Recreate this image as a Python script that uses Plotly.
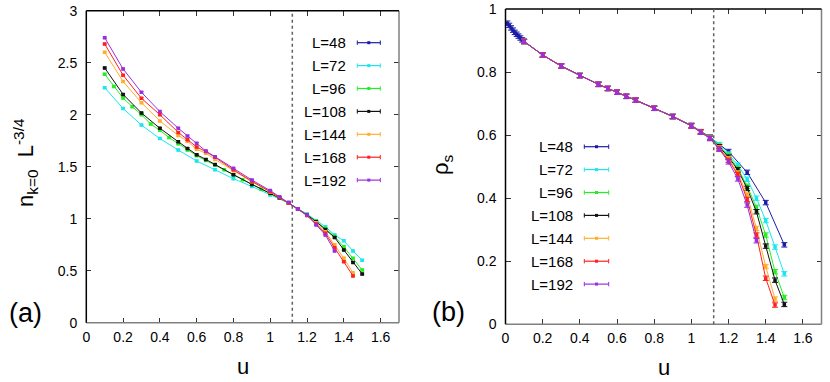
import plotly.graph_objects as go

# ---- data ----
sizes = ["L=48", "L=72", "L=96", "L=108", "L=144", "L=168", "L=192"]
colors = ["#1c1ca8", "#19e6f0", "#22ee22", "#111111", "#ffae2a", "#ff2020", "#9a2ee0"]

# panel (a): n_{k=0} L^{-3/4}
a_u_72 = [0.1, 0.2, 0.3, 0.4, 0.5, 0.6, 0.7, 0.8, 0.9, 1.0, 1.1, 1.2, 1.25, 1.3, 1.35, 1.4, 1.45, 1.5]
a_n_72 = [2.26, 2.06, 1.90, 1.77, 1.66, 1.555, 1.47, 1.385, 1.31, 1.228, 1.15, 1.045, 0.98, 0.923, 0.843, 0.788, 0.69, 0.60]
a_u_96 = [0.1, 0.15, 0.2, 0.25, 0.3, 0.35, 0.4, 0.45, 0.5, 0.55, 0.6, 0.65, 0.7, 0.75, 0.8,
          0.85, 0.9, 0.95, 1.0, 1.05, 1.1, 1.15, 1.2, 1.25, 1.3, 1.35, 1.4, 1.45, 1.5]
a_n_96 = [2.39, 2.27, 2.16, 2.077, 2.0, 1.91, 1.85, 1.78, 1.72, 1.66, 1.606, 1.56, 1.515, 1.47, 1.42,
          1.375, 1.33, 1.285, 1.24, 1.2, 1.15, 1.095, 1.04, 0.975, 0.905, 0.83, 0.73, 0.62, 0.506]
a_u_108 = [0.1, 0.2, 0.3, 0.4, 0.5, 0.55, 0.6, 0.65, 0.7, 0.8, 0.9, 1.0, 1.05, 1.1, 1.15, 1.2, 1.25, 1.3, 1.35, 1.4, 1.45, 1.5]
a_n_108 = [2.45, 2.195, 2.016, 1.87, 1.74, 1.676, 1.615, 1.57, 1.52, 1.423, 1.33, 1.244, 1.2, 1.15, 1.095,
           1.035, 0.971, 0.897, 0.82, 0.70, 0.58, 0.468]
a_u_144 = [0.1, 0.2, 0.3, 0.4, 0.5, 0.55, 0.6, 0.65, 0.7, 0.8, 0.9, 1.0, 1.05, 1.1, 1.15, 1.2, 1.25, 1.3, 1.35, 1.4, 1.45]
a_n_144 = [2.6, 2.32, 2.115, 1.94, 1.80, 1.745, 1.667, 1.63, 1.57, 1.46, 1.355, 1.255, 1.205, 1.15, 1.093,
           1.03, 0.96, 0.875, 0.75, 0.62, 0.48]
a_u_168 = a_u_144
a_n_168 = [2.68, 2.38, 2.157, 2.0, 1.83, 1.76, 1.69, 1.645, 1.59, 1.47, 1.36, 1.26, 1.207, 1.15, 1.092,
           1.03, 0.95, 0.86, 0.72, 0.587, 0.45]
a_u_192 = [0.1, 0.2, 0.3, 0.4, 0.5, 0.55, 0.6, 0.65, 0.7, 0.8, 0.9, 1.0, 1.05, 1.1, 1.15, 1.2, 1.25, 1.3, 1.35]
a_n_192 = [2.74, 2.44, 2.215, 2.03, 1.87, 1.795, 1.725, 1.65, 1.596, 1.484, 1.372, 1.27, 1.21, 1.157, 1.093,
           1.035, 0.94, 0.843, 0.69]

# panel (b): rho_s
b_u_48 = [0.01, 0.02, 0.03, 0.04, 0.05, 0.06, 0.07, 0.08, 0.09, 0.1, 0.2, 0.3, 0.4, 0.5, 0.6, 0.7, 0.8,
          0.9, 1.0, 1.1, 1.2, 1.3, 1.4, 1.5]
b_r_48 = [0.955, 0.948, 0.94, 0.933, 0.926, 0.92, 0.914, 0.908, 0.902, 0.897, 0.854, 0.819, 0.789, 0.761,
          0.736, 0.711, 0.685, 0.659, 0.631, 0.594, 0.548, 0.482, 0.386, 0.252]
b_u = [0.1, 0.2, 0.3, 0.4, 0.5, 0.55, 0.6, 0.65, 0.7, 0.8, 0.9, 1.0, 1.05, 1.1, 1.15, 1.2, 1.25, 1.3, 1.35, 1.4, 1.45, 1.5]
b_r_72 = [0.897, 0.854, 0.819, 0.789, 0.761, 0.748, 0.736, 0.723, 0.711, 0.685, 0.659, 0.630, 0.611, 0.593,
          0.570, 0.54, 0.505, 0.46, 0.40, 0.329, 0.245, 0.16]
b_r_96 = [0.897, 0.854, 0.819, 0.789, 0.761, 0.748, 0.736, 0.723, 0.711, 0.685, 0.659, 0.630, 0.611, 0.592,
          0.565, 0.535, 0.495, 0.438, 0.371, 0.283, 0.167, 0.085]
b_r_108 = [0.897, 0.854, 0.819, 0.789, 0.761, 0.748, 0.736, 0.723, 0.711, 0.685, 0.659, 0.630, 0.611, 0.592,
           0.563, 0.53, 0.49, 0.431, 0.357, 0.248, 0.14, 0.063]
b_r_144 = [0.897, 0.854, 0.819, 0.789, 0.761, 0.748, 0.736, 0.723, 0.711, 0.685, 0.659, 0.630, 0.610, 0.591,
           0.56, 0.525, 0.48, 0.41, 0.304, 0.183, 0.08]
b_r_168 = [0.897, 0.854, 0.819, 0.789, 0.761, 0.748, 0.736, 0.723, 0.711, 0.685, 0.659, 0.629, 0.610, 0.590,
           0.558, 0.52, 0.475, 0.396, 0.283, 0.146, 0.061]
b_r_192 = [0.897, 0.854, 0.819, 0.789, 0.761, 0.748, 0.736, 0.723, 0.711, 0.685, 0.659, 0.629, 0.609, 0.589,
           0.555, 0.515, 0.461, 0.378, 0.265]

u_c = 1.12

panel_a = [([], []), (a_u_72, a_n_72), (a_u_96, a_n_96), (a_u_108, a_n_108),
           (a_u_144, a_n_144), (a_u_168, a_n_168), (a_u_192, a_n_192)]
panel_b = [(b_u_48, b_r_48), (b_u, b_r_72), (b_u, b_r_96), (b_u, b_r_108),
           (b_u[:21], b_r_144), (b_u[:21], b_r_168), (b_u[:19], b_r_192)]

FONT = "Liberation Sans, Arial, sans-serif"
W, H = 830, 382

fig = go.Figure()

for (xs, ys), c in zip(panel_a, colors):
    fig.add_trace(go.Scatter(
        x=xs, y=ys, mode="lines+markers", xaxis="x", yaxis="y",
        line=dict(color=c, width=1), marker=dict(color=c, size=3.5, symbol="square"),
        error_y=dict(type="constant", value=0.008, color=c, thickness=1, width=2),
        showlegend=False, hoverinfo="skip"))

for (xs, ys), c in zip(panel_b, colors):
    fig.add_trace(go.Scatter(
        x=xs, y=ys, mode="lines+markers", xaxis="x2", yaxis="y2",
        line=dict(color=c, width=1), marker=dict(color=c, size=3.5, symbol="square"),
        error_y=dict(type="constant", value=0.007, color=c, thickness=1, width=3),
        showlegend=False, hoverinfo="skip"))

axis_common = dict(
    ticks="inside", ticklen=5, tickcolor="#333333", mirror="ticks",
    showline=False, showgrid=False, zeroline=False, automargin=False,
    tickfont=dict(family=FONT, size=14, color="black"),
)

fig.update_layout(
    width=W, height=H,
    margin=dict(l=0, r=0, t=0, b=0),
    paper_bgcolor="white", plot_bgcolor="white",
    xaxis=dict(domain=[86.3 / W, 399 / W], range=[0, 1.7], dtick=0.2, tick0=0,
               anchor="y", ticklabelstandoff=4, **axis_common),
    yaxis=dict(domain=[(H - 322.7) / H, (H - 10.7) / H], range=[0, 3], dtick=0.5,
               anchor="x", ticklabelstandoff=8, **axis_common),
    xaxis2=dict(domain=[505.5 / W, 821.5 / W], range=[0, 1.7], dtick=0.2, tick0=0,
                anchor="y2", ticklabelstandoff=4, **axis_common),
    yaxis2=dict(domain=[(H - 324.3) / H, (H - 9) / H], range=[0, 1], dtick=0.2,
                anchor="x2", ticklabelstandoff=8, **axis_common),
)

# frame: left/top black, bottom/right grey
shapes = []
for xr, yr in [("x", "y"), ("x2", "y2")]:
    xd, yd = xr + " domain", yr + " domain"
    shapes += [
        dict(type="line", xref=xd, yref=yd, x0=0, x1=1, y0=0, y1=0, line=dict(color="#808080", width=1.5)),
        dict(type="line", xref=xd, yref=yd, x0=1, x1=1, y0=0, y1=1, line=dict(color="#808080", width=1.5)),
        dict(type="line", xref=xd, yref=yd, x0=0, x1=0, y0=0, y1=1, line=dict(color="black", width=1.5)),
        dict(type="line", xref=xd, yref=yd, x0=0, x1=1, y0=1, y1=1, line=dict(color="black", width=1.5)),
        dict(type="line", xref=xr, yref=yd, x0=u_c, x1=u_c, y0=0, y1=1,
             line=dict(color="#606060", width=1.5, dash="3px,3px")),
    ]

# gnuplot-style keys: label on the left, error-bar sample on the right
annotations = []
keys = [(347.7, 42.7, 357.3, 380.3), (575.0, 146.7, 584.3, 608.7)]
row_step = 22.9
for tx, ty, sx0, sx1 in keys:
    for i, (lab, c) in enumerate(zip(sizes, colors)):
        yy = (H - (ty + i * row_step)) / H
        annotations.append(dict(text=lab, x=tx / W, y=yy, xref="paper", yref="paper",
                                xanchor="right", yanchor="middle", showarrow=False,
                                font=dict(family=FONT, size=15, color="black")))
        cap = 2.2 / H
        shapes += [
            dict(type="line", xref="paper", yref="paper", x0=sx0 / W, x1=sx1 / W, y0=yy, y1=yy,
                 line=dict(color=c, width=1.2)),
            dict(type="line", xref="paper", yref="paper", x0=sx0 / W, x1=sx0 / W, y0=yy - cap, y1=yy + cap,
                 line=dict(color=c, width=1)),
            dict(type="line", xref="paper", yref="paper", x0=sx1 / W, x1=sx1 / W, y0=yy - cap, y1=yy + cap,
                 line=dict(color=c, width=1)),
            dict(type="rect", xref="paper", yref="paper",
                 x0=((sx0 + sx1) / 2 - 1.5) / W, x1=((sx0 + sx1) / 2 + 1.5) / W,
                 y0=yy - 1.5 / H, y1=yy + 1.5 / H, line=dict(width=0), fillcolor=c),
        ]

# axis titles and panel tags
big = dict(family=FONT, size=22, color="black")
tag = dict(family=FONT, size=27, color="black")
for text, px, py, ang, f in [
    ("u", 243, 366, 0, big),
    ("u", 664, 367, 0, big),
    ("n<sub>k=0</sub>  L<sup>-3/4</sup>", 25, 163, -90, big),
    ("ρ<sub>s</sub>", 442, 165, -90, big),
    ("(a)", 25, 313, 0, tag),
    ("(b)", 448, 312, 0, tag),
]:
    annotations.append(dict(text=text, x=px / W, y=(H - py) / H, xref="paper", yref="paper",
                            xanchor="center", yanchor="middle", showarrow=False,
                            textangle=ang, font=f))

fig.update_layout(shapes=shapes, annotations=annotations)

# the page body keeps its default 8px margin otherwise
fig.write_html("out.html", config={"displayModeBar": False},
               post_script="document.body.style.margin='0';document.body.style.overflow='hidden';")
